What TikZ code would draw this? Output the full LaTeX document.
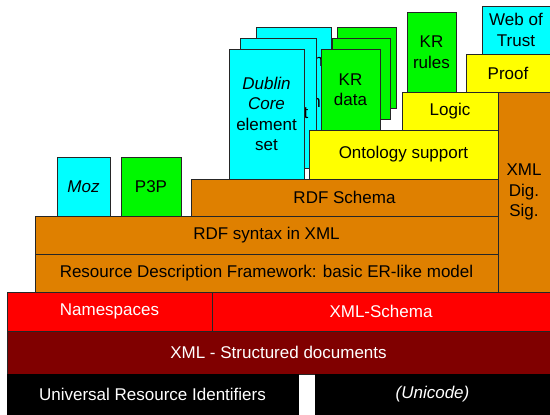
\documentclass[tikz,border=0pt]{standalone}
\usepackage{fontspec}
\setmainfont{Liberation Sans}
\definecolor{orng}{RGB}{223,128,0}
\definecolor{cyn}{RGB}{0,255,255}
\definecolor{grn}{RGB}{0,248,0}
\definecolor{yel}{RGB}{255,255,0}
\definecolor{rd}{RGB}{255,0,0}
\definecolor{drd}{RGB}{128,0,0}
\newcommand\blk[7]{\node[#6, anchor=north west, minimum width={(#4-#2)*1pt}, minimum height={(#5-#3)*1pt}] (#1) at (#2,#3) {#7};}
\tikzset{
  base/.style={draw=black!85, line width=0.8pt, inner sep=0pt, outer sep=0pt, align=center,
    font=\fontsize{17}{20.5}\selectfont},
  orb/.style={base, fill=orng},
  cyb/.style={base, fill=cyn},
  grb/.style={base, fill=grn},
  yeb/.style={base, fill=yel},
  rdb/.style={base, fill=rd, text=white},
  drb/.style={base, fill=drd, text=white},
  blb/.style={base, fill=black, draw=black, text=white},
  frag/.style={font=\fontsize{17}{20.5}\selectfont, inner sep=0pt}
}
\begin{document}
\begin{tikzpicture}[x=1pt, y=-1pt]
\useasboundingbox[fill=white] (0,0) rectangle (550,415);
% back cyan cards
\blk{cyanc}{256}{27}{331}{158}{cyb}{}
\node[frag] (fragm) at (316,62) {m};
\node[frag] (fragn) at (316,103) {n};
\blk{cyanb}{240}{38}{316}{168}{cyb}{}
\node[frag] (fragt) at (306,113) {t};
% back green cards
\blk{greenc}{337}{27}{396}{108}{grb}{}
\blk{greenb}{332}{38}{390}{119}{grb}{}
% front cards
\blk{dublin}{229}{49}{304}{179}{cyb}{\textit{Dublin}\\\textit{Core}\\element\\set}
\blk{krdata}{321}{49}{380}{130}{grb}{KR\\data}
\blk{krrules}{407}{12}{456}{92}{grb}{KR\\rules}
\blk{trust}{482}{6}{550}{54}{cyb}{Web of\\Trust}
\blk{proof}{466}{54}{550}{92}{yeb}{Proof}
\blk{logic}{402}{92}{498}{130}{yeb}{Logic}
\blk{onto}{309}{130}{498}{179}{yeb}{Ontology support}
\blk{moz}{57}{157}{110}{216}{cyb}{\textit{Moz}}
\blk{ppp}{121}{157}{181}{216}{grb}{P3P}
\blk{sig}{498}{92}{550}{292}{orb}{XML\\Dig.\\Sig.}
\blk{rdfs}{191}{179}{498}{216}{orb}{RDF Schema}
\blk{rdfx}{35}{216}{498}{254}{orb}{RDF syntax in XML}
\blk{rdfm}{35}{254}{498}{292}{orb}{Resource Description Framework: basic ER-like model}
\blk{ns}{7}{292}{212}{331}{rdb}{Namespaces}
\blk{xsd}{212}{292}{550}{331}{rdb}{XML-Schema}
\blk{xml}{7}{331}{550}{374}{drb}{XML - Structured documents}
\blk{uri}{7}{374}{298}{415}{blb}{Universal Resource Identifiers}
\blk{uni}{315}{374}{550}{415}{blb}{\textit{(Unicode)}}
\end{tikzpicture}
\end{document}
